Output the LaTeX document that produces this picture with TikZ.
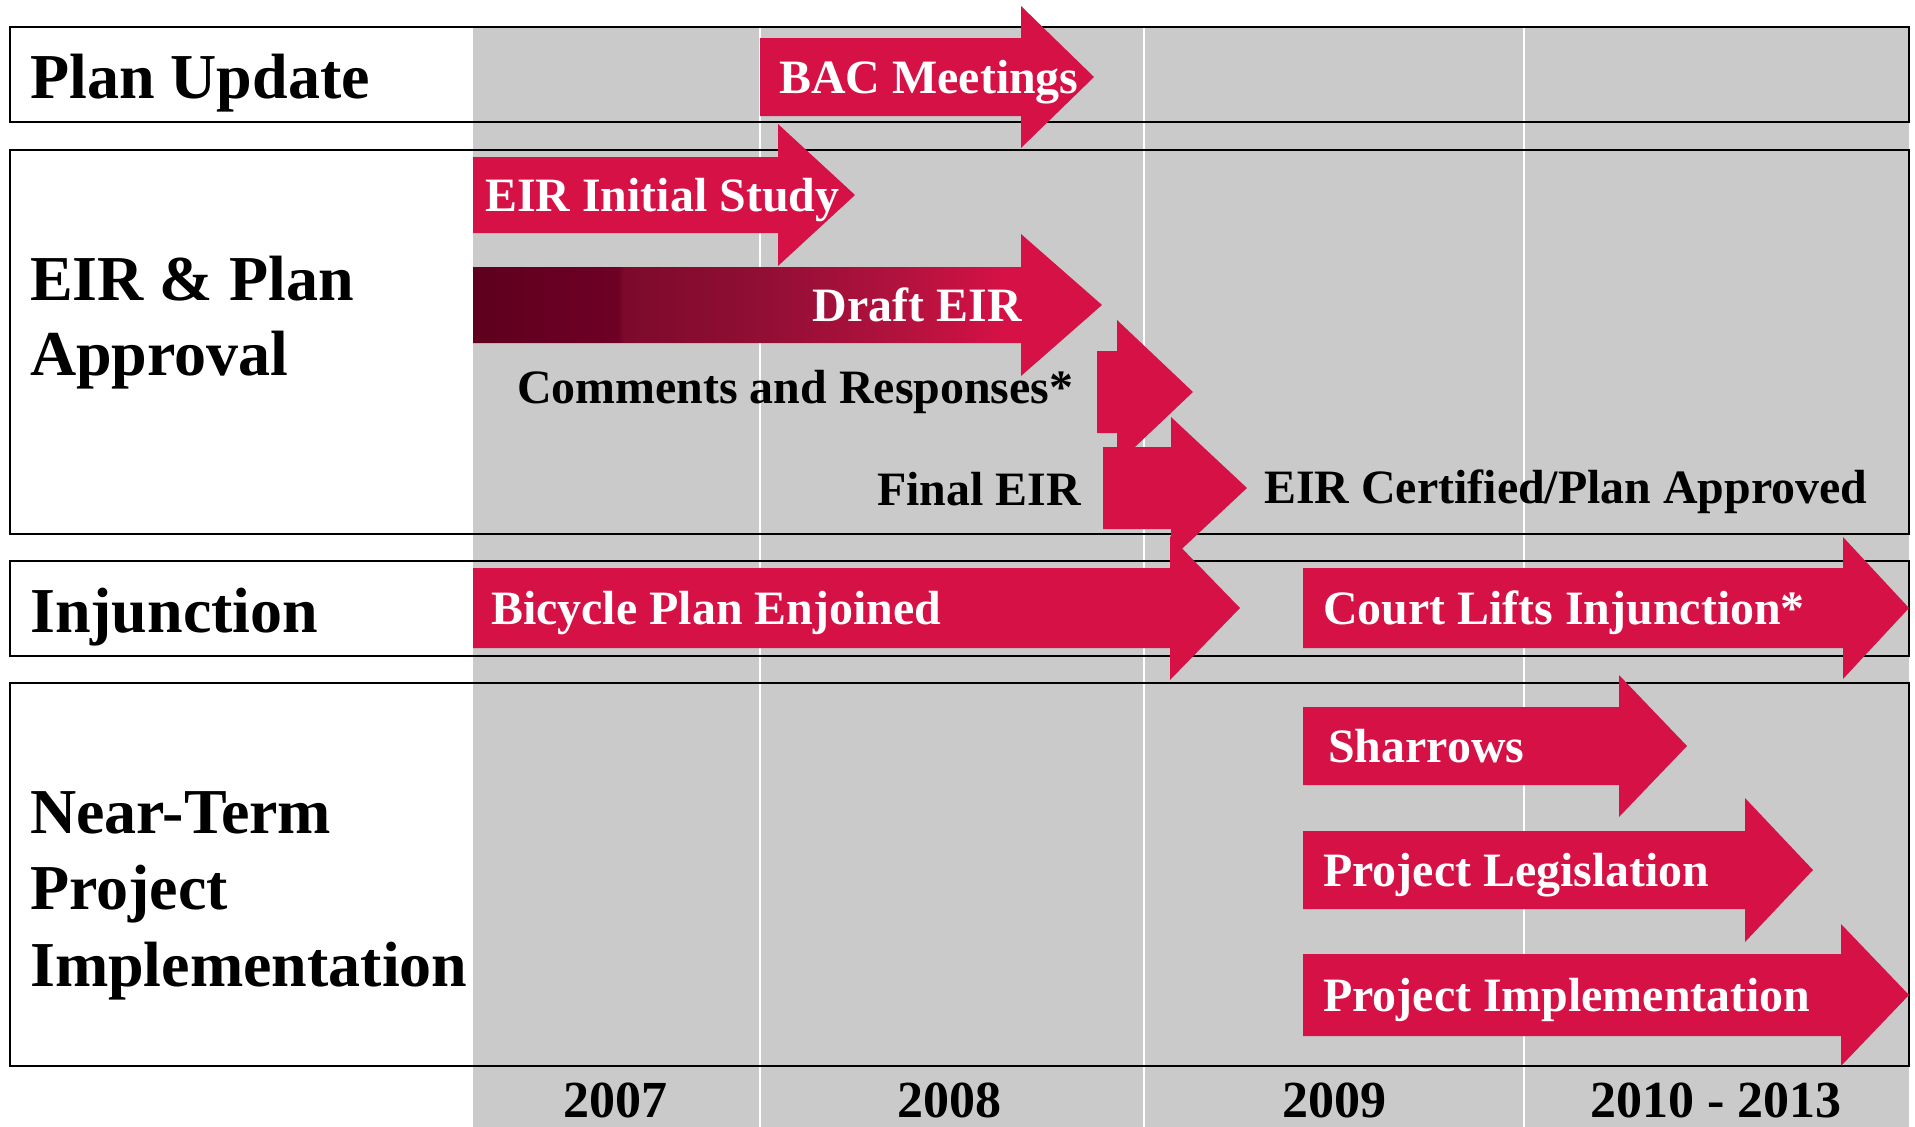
\documentclass[tikz,border=0pt]{standalone}
\usepackage{fontspec}
\setmainfont{Liberation Serif}
\definecolor{crim}{RGB}{213,17,70}
\definecolor{bggray}{RGB}{202,202,202}
\definecolor{gridgray}{RGB}{214,214,214}
\definecolor{dA}{RGB}{94,0,30}
\definecolor{dB}{RGB}{110,0,37}
\definecolor{dC}{RGB}{124,10,44}
\definecolor{dD}{RGB}{145,14,52}
\definecolor{dE}{RGB}{178,18,62}
\pgfdeclarehorizontalshading{drafteir}{100bp}{color(0bp)=(dA); color(25bp)=(dA); color(36.5bp)=(dB); color(37bp)=(dC); color(47.8bp)=(dD); color(59bp)=(dE); color(67bp)=(crim); color(100bp)=(crim)}
% #1 left, #2 head start, #3 tip x, #4 centre y, #5 body half height, #6 head half height, #7 style
\newcommand{\bigarrow}[7]{\path[#7] (#1,{#4-#5}) -- (#2,{#4-#5}) -- (#2,{#4-#6}) -- (#3,#4) -- (#2,{#4+#6}) -- (#2,{#4+#5}) -- (#1,{#4+#5}) -- cycle;}
\begin{document}
\begin{tikzpicture}[x=1pt,y=-1pt,
  lbl/.style={font=\fontsize{64}{76}\selectfont\bfseries, anchor=base west, inner sep=0pt},
  wtxt/.style={font=\fontsize{47.9}{57}\selectfont\bfseries, text=white, anchor=base west, inner sep=0pt},
  ktxt/.style={font=\fontsize{47.9}{57}\selectfont\bfseries, text=black, anchor=base west, inner sep=0pt},
  yr/.style={font=\fontsize{52}{62}\selectfont\bfseries, anchor=base, inner sep=0pt},
  rowbox/.style={draw=black, line width=2.6pt},
  divline/.style={draw=white, line width=2.4pt}]
\useasboundingbox (0,0) rectangle (1915,1127);
\fill[white] (0,0) rectangle (1915,1127);
% gray timeline area
\fill[bggray] (473,27) rectangle (1909,1127);
% year dividers
\draw[divline] (760,27) -- (760,1127);
\draw[divline] (1144,27) -- (1144,1127);
\draw[divline] (1524,27) -- (1524,1127);
% row boxes
\draw[rowbox] (10,27) rectangle (1909,122);
\draw[rowbox] (10,150) rectangle (1909,534);
\draw[rowbox] (10,561) rectangle (1909,656);
\draw[rowbox] (10,683) rectangle (1909,1066);
% arrows
\bigarrow{760}{1021}{1094}{77}{39}{71}{fill=crim}
\bigarrow{473}{778}{855}{195}{38}{71}{fill=crim}
\bigarrow{473}{1021}{1102}{305}{38}{71}{shade, shading=drafteir}
\bigarrow{1097}{1117}{1193}{392}{41}{72}{fill=crim}
\bigarrow{1103}{1171}{1247}{488}{41}{71}{fill=crim}
\bigarrow{473}{1170}{1240}{608}{40}{72}{fill=crim}
\bigarrow{1303}{1843}{1909}{608}{40}{71}{fill=crim}
\bigarrow{1303}{1619}{1687}{746}{39}{71}{fill=crim}
\bigarrow{1303}{1745}{1813}{870}{39}{72}{fill=crim}
\bigarrow{1303}{1841}{1909}{995}{41}{71}{fill=crim}
% row labels
\node[lbl] (lplan) at (30,98) {Plan Update};
\node[lbl] (leir1) at (30,300) {EIR \& Plan};
\node[lbl] (leir2) at (30,375) {Approval};
\node[lbl] (linj) at (30,632) {Injunction};
\node[lbl] (lnt1) at (30,833) {Near-Term};
\node[lbl] (lnt2) at (30,909) {Project};
\node[lbl] (lnt3) at (30,986) {Implementation};
% arrow texts
\node[wtxt] (bac) at (779,93) {BAC Meetings};
\node[wtxt] (eiris) at (485,211) {EIR Initial Study};
\node[wtxt, anchor=base east] (deir) at (1022,321) {Draft EIR};
\node[ktxt] (cmt) at (517,403) {Comments and Responses*};
\node[ktxt] (feir) at (877,505) {Final EIR};
\node[ktxt] (cert) at (1264,503) {EIR Certified/Plan Approved};
\node[wtxt] (bpe) at (491,624) {Bicycle Plan Enjoined};
\node[wtxt] (cli) at (1323,624) {Court Lifts Injunction*};
\node[wtxt] (shr) at (1328,762) {Sharrows};
\node[wtxt] (pleg) at (1323,886) {Project Legislation};
\node[wtxt] (pimp) at (1323,1011) {Project Implementation};
% years
\node[yr] (y7) at (615,1117) {2007};
\node[yr] (y8) at (949,1117) {2008};
\node[yr] (y9) at (1334,1117) {2009};
\node[yr] (y10) at (1716,1117) {2010 - 2013};
\end{tikzpicture}
\end{document}
